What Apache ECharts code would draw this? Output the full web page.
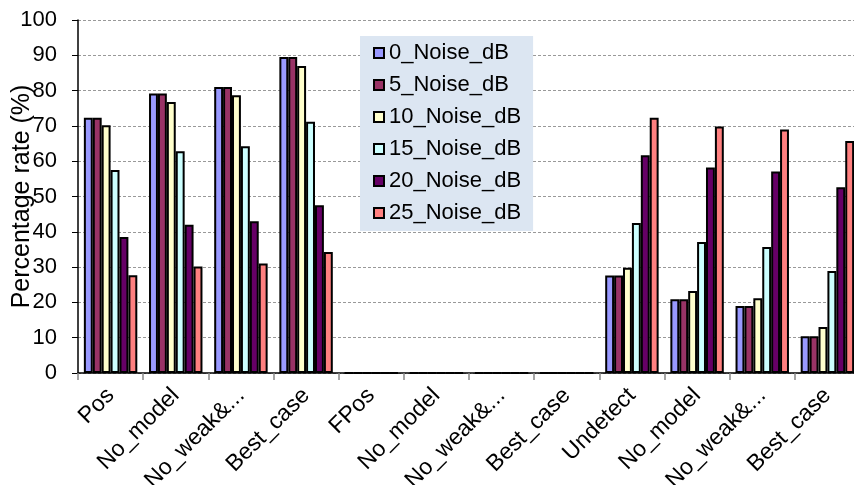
<!DOCTYPE html>
<html>
<head>
<meta charset="utf-8">
<script src="https://cdn.jsdelivr.net/npm/echarts@6/dist/echarts.min.js"></script>
<style>
  html, body { margin: 0; padding: 0; background: #fff; }
  #chart { width: 854px; height: 485px; }
</style>
</head>
<body>
<div id="chart"></div>
<script>
// Detection groups along the x axis
const categories = [
  'Pos', 'No_model', 'No_weak&...', 'Best_case',
  'FPos', 'No_model', 'No_weak&...', 'Best_case',
  'Undetect', 'No_model', 'No_weak&...', 'Best_case'
];

const seriesNames = ['0_Noise_dB', '5_Noise_dB', '10_Noise_dB', '15_Noise_dB', '20_Noise_dB', '25_Noise_dB'];

// Percentage rate per noise level, one value per category
const noise0  = [72.3, 79.2, 81.0, 89.5, 0, 0, 0, 0, 27.6, 20.9, 19.0, 10.4];
const noise5  = [72.3, 79.2, 81.0, 89.5, 0, 0, 0, 0, 27.6, 20.9, 19.0, 10.4];
const noise10 = [70.2, 76.8, 78.7, 87.0, 0, 0, 0, 0, 29.8, 23.2, 21.2, 13.0];
const noise15 = [57.5, 62.8, 64.2, 71.2, 0, 0, 0, 0, 42.5, 37.1, 35.7, 28.9];
const noise20 = [38.5, 42.0, 43.0, 47.5, 0, 0, 0, 0, 61.7, 58.2, 57.1, 52.6];
const noise25 = [27.7, 30.2, 31.0, 34.3, 0, 0, 0, 0, 72.3, 69.8, 69.0, 65.7];

const yTicks = { min: 0, max: 100, interval: 10 };

const colors = ['#9999FF', '#993366', '#FFFFCC', '#CCFFFF', '#660066', '#FF8080'];
const allData = [noise0, noise5, noise10, noise15, noise20, noise25];

const font = 'Liberation Sans, Arial, sans-serif';

const chart = echarts.init(document.getElementById('chart'), null, { renderer: 'canvas' });

chart.setOption({
  animation: false,
  textStyle: { fontFamily: font, color: '#000' },
  grid: {
    left: 78, right: -6, top: 20, bottom: 112,
    containLabel: false,
    outerBoundsMode: 'none'
  },
  legend: {
    orient: 'vertical',
    left: 360,
    top: 36,
    padding: [6, 12, 7, 13],
    backgroundColor: '#DCE6F2',
    itemWidth: 10,
    itemHeight: 10,
    itemGap: 10,
    icon: 'rect',
    textStyle: { fontFamily: font, fontSize: 22, color: '#000' },
    data: seriesNames
  },
  xAxis: {
    type: 'category',
    data: categories,
    boundaryGap: true,
    axisLine: { lineStyle: { color: '#000', width: 1.5 } },
    axisTick: { show: true, length: 7, lineStyle: { color: '#888', width: 1.5 } },
    axisLabel: {
      interval: 0,
      rotate: 45,
      margin: 19,
      fontSize: 23,
      fontFamily: font,
      color: '#000'
    }
  },
  yAxis: {
    type: 'value',
    min: yTicks.min,
    max: yTicks.max,
    interval: yTicks.interval,
    name: 'Percentage rate (%)',
    nameLocation: 'middle',
    nameGap: 43,
    nameMoveOverlap: false,
    nameTextStyle: { fontSize: 25, fontFamily: font, color: '#000' },
    axisLine: { show: true, lineStyle: { color: '#000', width: 1.5 } },
    axisTick: { show: true, length: 6, lineStyle: { color: '#000' } },
    axisLabel: { fontSize: 22, fontFamily: font, color: '#000', margin: 5, padding: [0, 16, 0, 0] },
    splitLine: { show: true, lineStyle: { color: '#999', type: [3, 2], width: 1 } }
  },
  series: seriesNames.map((name, i) => ({
    name: name,
    type: 'bar',
    data: allData[i],
    barGap: '0%',
    barCategoryGap: '18%',
    itemStyle: { color: colors[i], borderColor: '#000', borderWidth: 2 }
  }))
});
</script>
</body>
</html>
